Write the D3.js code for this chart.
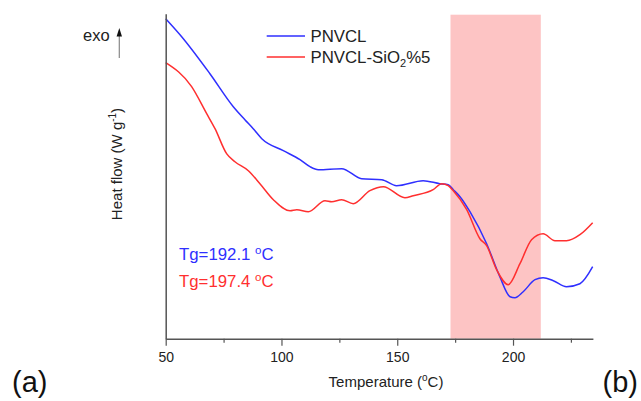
<!DOCTYPE html>
<html>
<head>
<meta charset="utf-8">
<script src="https://cdn.jsdelivr.net/npm/d3@7"></script>
<style>
  html, body { margin: 0; padding: 0; background: #fff; }
  svg { display: block; font-family: "Liberation Sans", Arial, sans-serif; }
</style>
</head>
<body>
<svg id="chart" width="641" height="401"></svg>
<script>
// DSC traces: temperature (°C) and heat flow (arbitrary offset, exo up)
const tempPNVCL = [50, 56.9, 69.1, 79.2, 84.2, 87.8, 91.5, 100.8, 108.0, 112.3, 115.9, 126.0, 134.6, 143.3, 149.7, 161.2, 168.4, 172.0, 174.2, 177.1, 181.4, 188.6, 194.3, 198.7, 200.8, 204.4, 209.5, 213.0, 217.4, 223.1, 228.9, 234.4];
const flowPNVCL = [3.20, 3.02, 2.65, 2.32, 2.19, 2.10, 2.00, 1.88, 1.79, 1.72, 1.69, 1.70, 1.60, 1.59, 1.53, 1.58, 1.55, 1.54, 1.49, 1.42, 1.27, 0.95, 0.62, 0.42, 0.41, 0.47, 0.59, 0.61, 0.58, 0.52, 0.55, 0.72];

const tempSiO2 = [50, 61.2, 67.7, 71.3, 76.3, 79.9, 85.7, 90.7, 96.5, 103.7, 106.6, 111.6, 118.8, 121.7, 126.0, 131.0, 138.2, 144.0, 153.3, 156.9, 165.5, 169.2, 172.0, 174.2, 180.0, 185.7, 188.6, 192.9, 197.9, 203.0, 208.0, 213.0, 218.1, 223.1, 228.9, 234.4];
const flowSiO2 = [2.76, 2.52, 2.25, 2.10, 1.85, 1.77, 1.68, 1.55, 1.39, 1.28, 1.29, 1.27, 1.38, 1.37, 1.39, 1.35, 1.48, 1.52, 1.41, 1.43, 1.49, 1.55, 1.53, 1.48, 1.29, 1.00, 0.93, 0.69, 0.54, 0.75, 0.99, 1.05, 0.98, 0.98, 1.04, 1.16];

const seriesNames = ["PNVCL", "PNVCL-SiO2%5"];
const seriesColors = ["#2f2fff", "#ff2f2f"];
const majorTicks = [50, 100, 150, 200];
const minorTicks = [75, 125, 175, 225];
const tgRegion = [173, 212];
const tgValues = [192.1, 197.4];

const svg = d3.select("#chart");
const font = "'Liberation Sans', Arial, sans-serif";

const x = d3.scaleLinear().domain([50, 234.5]).range([165.7, 592.9]);
const y = d3.scaleLinear().domain([0, 3.25]).range([338.7, 13.7]);

// Tg window
svg.append("rect")
  .attr("x", x(tgRegion[0]))
  .attr("y", y(3.25) + 1)
  .attr("width", x(tgRegion[1]) - x(tgRegion[0]))
  .attr("height", y(0) - y(3.25) - 1)
  .attr("fill", "#fdc4c4");

// curves
const line = d3.line()
  .x(d => x(d[0]))
  .y(d => y(d[1]))
  .curve(d3.curveMonotoneX);

const traces = [
  d3.zip(tempPNVCL, flowPNVCL),
  d3.zip(tempSiO2, flowSiO2)
];
traces.forEach((pts, i) => {
  svg.append("path")
    .datum(pts)
    .attr("d", line)
    .attr("fill", "none")
    .attr("stroke", seriesColors[i])
    .attr("stroke-width", 1.5)
    .attr("stroke-linejoin", "round");
});

// bottom axis
const axisColor = "#555";
const xAxis = svg.append("g")
  .attr("transform", `translate(0,${y(0)})`)
  .call(d3.axisBottom(x).tickValues(majorTicks).tickSize(7).tickSizeOuter(0).tickPadding(6));
xAxis.select(".domain").attr("stroke", axisColor).attr("stroke-width", 1.5);
xAxis.selectAll(".tick line").attr("stroke", axisColor).attr("stroke-width", 1.2);
xAxis.selectAll(".tick text")
  .attr("font-family", font).attr("font-size", 14).attr("fill", "#222");

const xMinor = svg.append("g")
  .attr("transform", `translate(0,${y(0)})`)
  .call(d3.axisBottom(x).tickValues(minorTicks).tickSize(4).tickFormat(""));
xMinor.select(".domain").remove();
xMinor.selectAll(".tick line").attr("stroke", axisColor).attr("stroke-width", 1.2);

// left axis (no ticks)
const yAxis = svg.append("g")
  .attr("transform", `translate(${x(50)},0)`)
  .call(d3.axisLeft(y).tickValues([]).tickSizeOuter(0));
yAxis.select(".domain").attr("stroke", axisColor).attr("stroke-width", 1.5);

// axis titles
const xTitle = svg.append("text")
  .attr("x", 386).attr("y", 387)
  .attr("text-anchor", "middle")
  .attr("font-size", 15).attr("fill", "#222");
xTitle.append("tspan").text("Temperature (");
xTitle.append("tspan").attr("dy", -6).attr("font-size", 10).text("o");
xTitle.append("tspan").attr("dy", 6).text("C)");

const yTitle = svg.append("text")
  .attr("transform", `translate(121.5,164) rotate(-90)`)
  .attr("text-anchor", "middle")
  .attr("font-size", 15).attr("fill", "#222");
yTitle.append("tspan").text("Heat flow (W g");
yTitle.append("tspan").attr("dy", -6).attr("font-size", 10).text("-1");
yTitle.append("tspan").attr("dy", 6).text(")");

// exo marker: grey shaft with a black head
svg.append("text")
  .attr("x", 83).attr("y", 41)
  .attr("font-size", 16.5).attr("fill", "#222")
  .text("exo");
svg.append("line")
  .attr("x1", 119.3).attr("x2", 119.3)
  .attr("y1", 58).attr("y2", 35)
  .attr("stroke", "#888").attr("stroke-width", 1.2);
svg.append("path")
  .attr("d", "M116.6,36.5 L119.3,28 L122,36.5 Z")
  .attr("fill", "#111");

// legend
const legendY = [36, 57];
seriesNames.forEach((name, i) => {
  svg.append("line")
    .attr("x1", 266.7).attr("x2", 305)
    .attr("y1", legendY[i]).attr("y2", legendY[i])
    .attr("stroke", seriesColors[i]).attr("stroke-width", 1.5);
  const t = svg.append("text")
    .attr("x", 310.5).attr("y", legendY[i] + 6)
    .attr("font-size", 16.8).attr("fill", "#222");
  if (name.includes("SiO2")) {
    const [pre, post] = name.split("SiO2");
    t.append("tspan").text(pre + "SiO");
    t.append("tspan").attr("dy", 4).attr("font-size", 11).text("2");
    t.append("tspan").attr("dy", -4).text(post);
  } else {
    t.text(name);
  }
});

// Tg annotations
const tgY = [260, 287];
tgValues.forEach((v, i) => {
  const t = svg.append("text")
    .attr("x", 179).attr("y", tgY[i])
    .attr("font-size", 16.8).attr("fill", seriesColors[i]);
  t.append("tspan").text(`Tg=${v.toFixed(1)} `);
  t.append("tspan").attr("dy", -6).attr("font-size", 11.5).text("o");
  t.append("tspan").attr("dy", 6).text("C");
});

// panel letters
svg.append("text").attr("x", 12).attr("y", 392)
  .attr("font-size", 29).attr("fill", "#111").text("(a)");
svg.append("text").attr("x", 602.5).attr("y", 392)
  .attr("font-size", 29).attr("fill", "#111").text("(b)");
</script>
</body>
</html>
